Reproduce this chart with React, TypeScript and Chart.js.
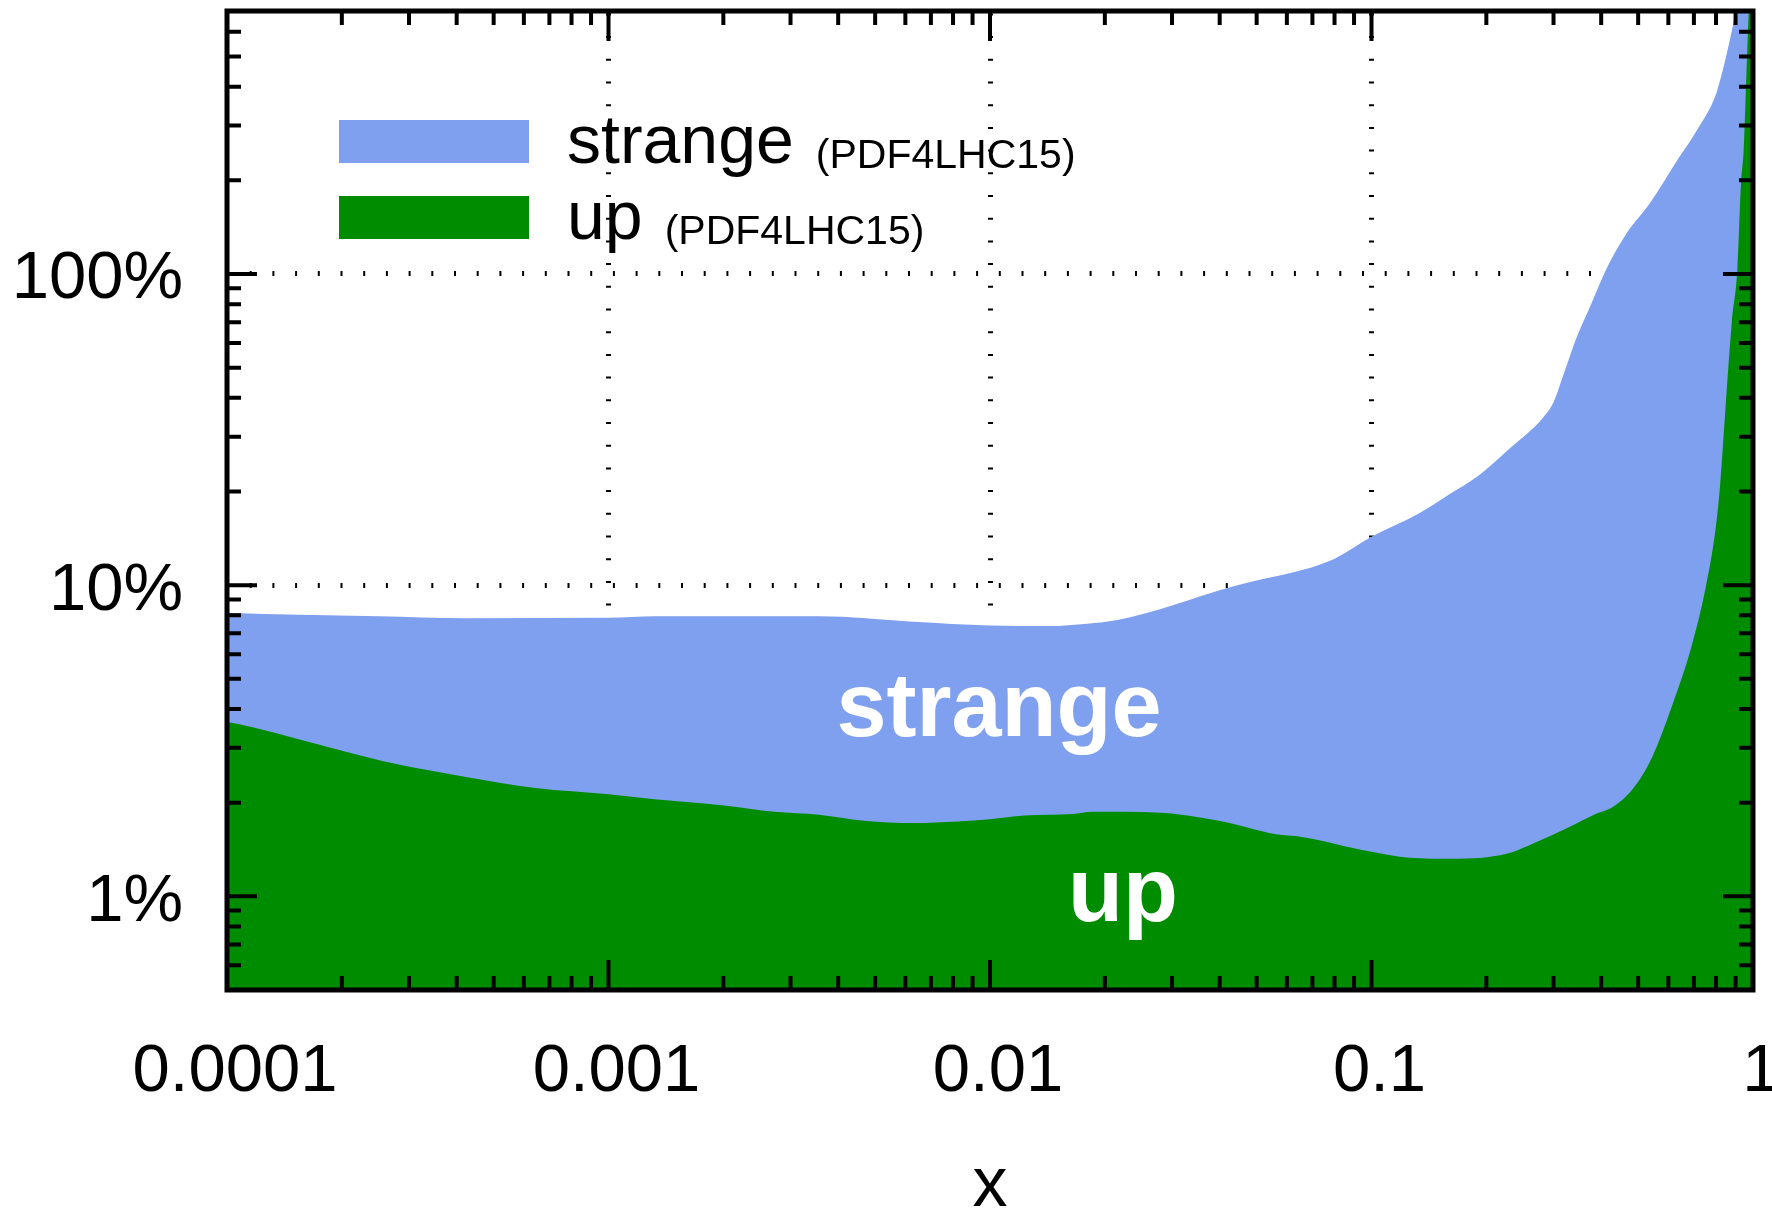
import React, { useEffect, useRef } from 'react';
import { Chart, registerables } from 'chart.js';

Chart.register(...registerables);

// ---------- data (x, relative uncertainty in %) ----------
const strangeX = [
  1e-4, 1.55e-4, 2.5e-4, 4.23e-4, 1e-3, 1.32e-3, 3.56e-3, 6.3e-3, 1e-2, 1.43e-2,
  1.8e-2, 2.12e-2, 2.56e-2, 3.1e-2, 3.98e-2, 4.75e-2, 6.96e-2, 8.05e-2, 0.1, 0.133,
  0.16, 0.189, 0.231, 0.282, 0.3, 0.318, 0.345, 0.374, 0.413, 0.466,
  0.537, 0.63, 0.712, 0.803, 0.853, 0.897, 0.95, 1.0,
];
const strangePct = [
  8.16, 8.03, 7.95, 7.83, 7.85, 7.94, 7.94, 7.63, 7.42, 7.39,
  7.52, 7.7, 8.13, 8.72, 9.62, 10.2, 11.4, 12.2, 14.3, 17.0,
  19.6, 22.3, 27.6, 34.6, 38.7, 47.2, 62.6, 78.5, 104, 135,
  169, 230, 289, 384, 509, 676, 950, 1200,
];
const upX = [
  1e-4, 1.16e-4, 1.55e-4, 2.06e-4, 2.74e-4, 4.23e-4, 6.44e-4, 1e-3, 1.32e-3, 2.01e-3,
  2.72e-3, 3.56e-3, 4.67e-3, 6.3e-3, 8.24e-3, 1e-2, 1.23e-2, 1.65e-2, 1.86e-2, 2.72e-2,
  3.98e-2, 5.68e-2, 6.38e-2, 0.1, 0.1257, 0.164, 0.226, 0.269, 0.33, 0.383,
  0.43, 0.485, 0.544, 0.612, 0.689, 0.752, 0.797, 0.82, 0.853, 0.88,
  0.91, 0.93, 0.945, 0.96, 0.975, 1.0,
];
const upPct = [
  3.63, 3.5, 3.19, 2.91, 2.67, 2.42, 2.23, 2.13, 2.05, 1.96,
  1.87, 1.83, 1.75, 1.72, 1.74, 1.77, 1.82, 1.84, 1.87, 1.86,
  1.75, 1.58, 1.56, 1.39, 1.33, 1.32, 1.37, 1.49, 1.67, 1.83,
  1.94, 2.22, 2.8, 4.06, 6.32, 9.86, 15.0, 21.0, 42, 70,
  104, 195, 250, 420, 700, 1000,
];

const xMajorTicks = [1e-4, 1e-3, 1e-2, 1e-1, 1];
const xTickLabels = ['0.0001', '0.001', '0.01', '0.1', '1'];
const yMajorTicks = [1, 10, 100];
const yTickLabels = ['1%', '10%', '100%'];
const yMinorTicks = [0.6, 0.7, 0.8, 0.9, 2, 3, 4, 5, 6, 7, 8, 9, 20, 30, 40, 50, 60, 70, 80, 90, 200, 300, 400, 500, 600];
const seriesNames = ['strange', 'up'];
const legendNote = '(PDF4LHC15)';
const xTitle = 'x';

const BLUE = '#7FA0EE';
const GREEN = '#008C00';
const FONT = '"Liberation Sans", Arial, Helvetica, sans-serif';

const xMinorTicks: number[] = [];
for (let d = -4; d <= -1; d++) {
  for (let k = 2; k <= 9; k++) xMinorTicks.push(k * Math.pow(10, d));
}

const decorPlugin = {
  id: 'decor',
  afterDraw(chart: any) {
    const { ctx, chartArea: a } = chart;
    const xs = chart.scales.x;
    const ys = chart.scales.y;
    ctx.save();
    ctx.strokeStyle = '#000';
    ctx.lineCap = 'butt';
    ctx.lineWidth = 4;
    ctx.beginPath();
    const major = 30;
    const minor = 14;
    for (const v of xMajorTicks) {
      const p = xs.getPixelForValue(v);
      ctx.moveTo(p, a.bottom); ctx.lineTo(p, a.bottom - major);
      ctx.moveTo(p, a.top); ctx.lineTo(p, a.top + major);
    }
    for (const v of xMinorTicks) {
      const p = xs.getPixelForValue(v);
      ctx.moveTo(p, a.bottom); ctx.lineTo(p, a.bottom - minor);
      ctx.moveTo(p, a.top); ctx.lineTo(p, a.top + minor);
    }
    for (const v of yMajorTicks) {
      const p = ys.getPixelForValue(v);
      ctx.moveTo(a.left, p); ctx.lineTo(a.left + major, p);
      ctx.moveTo(a.right, p); ctx.lineTo(a.right - major, p);
    }
    for (const v of yMinorTicks) {
      const p = ys.getPixelForValue(v);
      ctx.moveTo(a.left, p); ctx.lineTo(a.left + minor, p);
      ctx.moveTo(a.right, p); ctx.lineTo(a.right - minor, p);
    }
    ctx.stroke();
    ctx.lineWidth = 5;
    ctx.strokeRect(a.left, a.top, a.right - a.left, a.bottom - a.top);

    // in-plot labels
    ctx.fillStyle = '#fff';
    ctx.textAlign = 'center';
    ctx.textBaseline = 'alphabetic';
    ctx.font = `bold 90px ${FONT}`;
    ctx.fillText(seriesNames[0], 999, 736);
    ctx.fillText(seriesNames[1], 1123, 921);

    // legend
    const items = [
      { color: BLUE, name: seriesNames[0], boxTop: 120, base: 163, noteBase: 168 },
      { color: GREEN, name: seriesNames[1], boxTop: 196, base: 239, noteBase: 244 },
    ];
    ctx.textAlign = 'left';
    for (const it of items) {
      ctx.fillStyle = it.color;
      ctx.fillRect(339, it.boxTop, 190, 43);
      ctx.fillStyle = '#000';
      ctx.font = `68px ${FONT}`;
      ctx.fillText(it.name, 567, it.base);
      const w = ctx.measureText(it.name).width;
      ctx.font = `41px ${FONT}`;
      ctx.fillText(legendNote, 567 + w + 22, it.noteBase);
    }
    ctx.restore();
  },
};

export default function App() {
  const ref = useRef<HTMLCanvasElement | null>(null);
  useEffect(() => {
    if (!ref.current) return;
    const chart = new Chart(ref.current, {
      type: 'line',
      data: {
        datasets: [
          {
            label: seriesNames[1],
            data: upX.map((x, i) => ({ x, y: upPct[i] })),
            fill: 'start',
            backgroundColor: GREEN,
            borderWidth: 0,
            pointRadius: 0,
            cubicInterpolationMode: 'monotone',
            order: 0,
          },
          {
            label: seriesNames[0],
            data: strangeX.map((x, i) => ({ x, y: strangePct[i] })),
            fill: 'start',
            backgroundColor: BLUE,
            borderWidth: 0,
            pointRadius: 0,
            cubicInterpolationMode: 'monotone',
            order: 1,
          },
        ],
      },
      options: {
        animation: false,
        responsive: false,
        devicePixelRatio: 1,
        layout: { padding: { top: 11, right: 19, left: 0, bottom: 0 } },
        plugins: {
          legend: { display: false },
          tooltip: { enabled: false },
        },
        scales: {
          x: {
            type: 'logarithmic',
            min: 1e-4,
            max: 1,
            z: 1,
            afterBuildTicks: (s: any) => {
              s.ticks = xMajorTicks.map((v) => ({ value: v }));
            },
            afterFit: (s: any) => {
              s.height = 221;
              s.paddingLeft = 0;
              s.paddingRight = 0;
            },
            grid: {
              color: (c: any) =>
                c.tick && (c.tick.value === 1e-4 || c.tick.value === 1) ? 'rgba(0,0,0,0)' : '#000',
              lineWidth: 5,
              drawTicks: false,
            },
            border: { display: false, dash: [2, 20.7], dashOffset: -2.4 },
            ticks: {
              autoSkip: false,
              maxRotation: 0,
              padding: 42,
              labelOffset: 8,
              color: '#000',
              font: { family: FONT, size: 67 },
              callback: (_v: any, i: number) => xTickLabels[i],
            },
            title: {
              display: true,
              text: xTitle,
              color: '#000',
              font: { family: FONT, size: 70, lineHeight: 0.68 },
              padding: { top: 0, bottom: 0 },
            },
          },
          y: {
            type: 'logarithmic',
            min: 0.5,
            max: 700,
            z: 1,
            afterBuildTicks: (s: any) => {
              s.ticks = yMajorTicks.map((v) => ({ value: v }));
            },
            afterFit: (s: any) => {
              s.width = 227;
              s.paddingTop = 0;
              s.paddingBottom = 0;
            },
            grid: {
              color: '#000',
              lineWidth: 5,
              drawTicks: false,
            },
            border: { display: false, dash: [2, 20.7], dashOffset: 0 },
            ticks: {
              autoSkip: false,
              padding: 44,
              labelOffset: 6,
              color: '#000',
              font: { family: FONT, size: 67 },
              callback: (_v: any, i: number) => yTickLabels[i],
            },
          },
        },
      },
      plugins: [decorPlugin],
    } as any);
    return () => chart.destroy();
  }, []);

  return (
    <div style={{ position: 'fixed', left: 0, top: 0, width: 1772, height: 1211, background: '#fff' }}>
      <canvas ref={ref} width={1772} height={1211} style={{ display: 'block', width: 1772, height: 1211 }} />
    </div>
  );
}
